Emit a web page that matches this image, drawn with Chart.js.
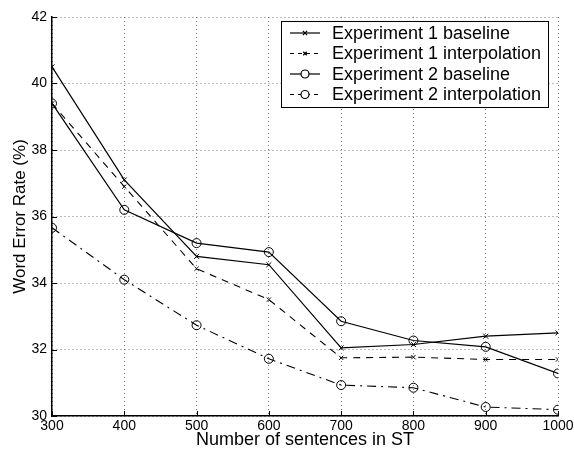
<!DOCTYPE html>
<html>
<head>
<meta charset="utf-8">
<script src="https://cdn.jsdelivr.net/npm/chart.js@4/dist/chart.umd.min.js"></script>
<style>
	html, body { margin: 0; padding: 0; background: #fff; }
	#wrap { width: 574px; height: 451px; }
</style>
</head>
<body>
<div id="wrap"><canvas id="werChart"></canvas></div>
<script>
var sentences = [300, 400, 500, 600, 700, 800, 900, 1000];
var exp1Baseline = [40.5, 37.1, 34.8, 34.55, 32.05, 32.15, 32.4, 32.5];
var exp1Interp = [39.4, 36.9, 34.43, 33.5, 31.75, 31.77, 31.7, 31.7];
var exp2Baseline = [39.4, 36.2, 35.2, 34.93, 32.85, 32.27, 32.08, 31.28];
var exp2Interp = [35.66, 34.1, 32.73, 31.72, 30.93, 30.85, 30.27, 30.19];
var yTicks = [30, 32, 34, 36, 38, 40, 42];

function toPoints(vals) {
	return sentences.map(function (s, i) { return { x: s, y: vals[i] }; });
}

var font = "'Liberation Sans', Arial, sans-serif";

// legend box drawn inside the plot, upper right
var boxLegend = {
	id: 'boxLegend',
	afterDraw: function (chart) {
		var c = chart.ctx;
		var x0 = 281, y0 = 21, w = 267, h = 86;
		c.save();
		c.fillStyle = '#fff';
		c.fillRect(x0, y0, w, h);
		c.strokeStyle = '#000';
		c.lineWidth = 1;
		c.setLineDash([]);
		c.strokeRect(x0 + 0.5, y0 + 0.5, w, h);
		c.font = '18px ' + font;
		c.textBaseline = 'middle';
		chart.data.datasets.forEach(function (ds, i) {
			var y = y0 + 12 + i * 20.5;
			c.strokeStyle = '#000';
			c.lineWidth = 1.2;
			c.setLineDash(ds.borderDash ? [4, 4] : []);
			c.beginPath();
			c.moveTo(x0 + 9, y);
			c.lineTo(x0 + 39, y);
			c.stroke();
			c.setLineDash([]);
			c.fillStyle = '#fff';
			Chart.helpers.drawPoint(c, {
				pointStyle: ds.pointStyle,
				radius: ds.pointRadius - 0.5,
				borderWidth: 1
			}, x0 + 24, y);
			c.fillStyle = '#000';
			c.fillText(ds.label, x0 + 51, y + 1);
		});
		c.restore();
	}
};

// small inward tick marks like the original
var innerTicks = {
	id: 'innerTicks',
	afterDatasetsDraw: function (chart) {
		var c = chart.ctx;
		var a = chart.chartArea;
		var xs = chart.scales.x, ys = chart.scales.y;
		c.save();
		c.strokeStyle = '#000';
		c.lineWidth = 1;
		c.beginPath();
		yTicks.forEach(function (v) {
			var py = Math.round(ys.getPixelForValue(v)) + 0.5;
			c.moveTo(a.left, py); c.lineTo(a.left + 5, py);
		});
		sentences.forEach(function (v) {
			var px = Math.round(xs.getPixelForValue(v)) + 0.5;
			c.moveTo(px, a.bottom); c.lineTo(px, a.bottom - 5);
		});
		c.stroke();
		c.restore();
	}
};

var ctx = document.getElementById('werChart');
var werChart = new Chart(ctx, {
	type: 'line',
	data: {
		datasets: [
			{
				label: 'Experiment 1 baseline',
				data: toPoints(exp1Baseline),
				borderColor: '#000',
				borderWidth: 1.2,
				pointStyle: 'crossRot',
				pointRadius: 3.5,
				pointBorderColor: '#000',
				pointBorderWidth: 1,
			},
			{
				label: 'Experiment 1 interpolation',
				data: toPoints(exp1Interp),
				borderColor: '#000',
				borderWidth: 1.1,
				borderDash: [7, 6],
				pointStyle: 'crossRot',
				pointRadius: 3,
				pointBorderColor: '#000',
				pointBorderWidth: 1,
			},
			{
				label: 'Experiment 2 baseline',
				data: toPoints(exp2Baseline),
				borderColor: '#000',
				borderWidth: 1.2,
				pointStyle: 'circle',
				pointRadius: 4.5,
				pointBackgroundColor: 'rgba(255,255,255,0)',
				pointBorderColor: '#000',
				pointBorderWidth: 1,
			},
			{
				label: 'Experiment 2 interpolation',
				data: toPoints(exp2Interp),
				borderColor: '#000',
				borderWidth: 1.1,
				borderDash: [9, 5, 2, 5],
				pointStyle: 'circle',
				pointRadius: 4.5,
				pointBackgroundColor: 'rgba(255,255,255,0)',
				pointBorderColor: '#000',
				pointBorderWidth: 1,
			},
		],
	},
	options: {
		responsive: true,
		maintainAspectRatio: false,
		animation: false,
		layout: {
			padding: { top: 17, right: 16, left: 0, bottom: 0 },
		},
		plugins: {
			legend: { display: false },
			tooltip: { enabled: false },
		},
		scales: {
			x: {
				type: 'linear',
				min: 300,
				max: 1000,
				afterBuildTicks: function (scale) {
					scale.ticks = sentences.map(function (v) { return { value: v }; });
				},
				afterFit: function (scale) {
					scale.height = 35;
					scale.paddingRight = 0;
					scale.paddingLeft = 0;
				},
				grid: {
					color: '#777',
					lineWidth: 1,
					drawTicks: false,
				},
				border: { display: true, color: '#000', width: 1.5, dash: [1, 3] },
				ticks: {
					color: '#000',
					padding: 2,
					maxRotation: 0,
					font: { family: font, size: 14 },
					callback: function (v) { return String(v); },
				},
				title: {
					display: true,
					text: 'Number of sentences in ST',
					color: '#000',
					padding: 0,
					font: { family: font, size: 18 },
				},
			},
			y: {
				min: 30,
				max: 42,
				afterBuildTicks: function (scale) {
					scale.ticks = yTicks.map(function (v) { return { value: v }; });
				},
				afterFit: function (scale) {
					scale.width = 52;
					scale.paddingTop = 0;
					scale.paddingBottom = 0;
				},
				grid: {
					color: '#777',
					lineWidth: 1,
					drawTicks: false,
				},
				border: { display: true, color: '#000', width: 1.5, dash: [1, 3] },
				ticks: {
					color: '#000',
					padding: 5,
					font: { family: font, size: 14 },
				},
				title: {
					display: true,
					text: 'Word Error Rate (%)',
					color: '#000',
					padding: { top: 10, bottom: 0 },
					font: { family: font, size: 17 },
				},
			},
		},
	},
	plugins: [innerTicks, boxLegend],
});
</script>
</body>
</html>
